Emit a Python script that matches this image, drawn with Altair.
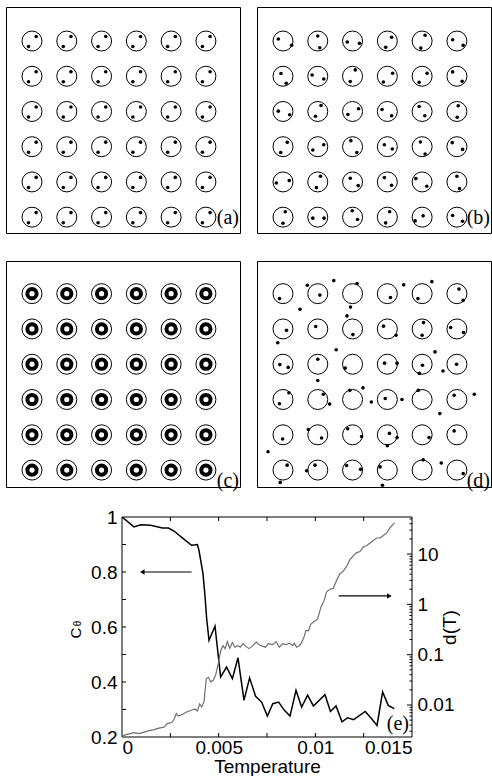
import altair as alt
import pandas as pd

# ---------------- lattice snapshots (a)-(d) ----------------
grid_cols = [1, 2, 3, 4, 5, 6]
grid_rows = [1, 2, 3, 4, 5, 6]
R = 0.286  # radius of a pinning circle, in lattice units

# (a) ordered state: same two-particle arrangement in every circle (dx, dy in radii, y up)
a_pair = [(-0.35, -0.55), (0.42, 0.45)]

# (b) orientations vary from circle to circle, listed row by row
b_offsets = [
    [[(-0.47, 0.2), (0.87, -0.43)], [(0, 0.5), (0.2, -0.67)], [(-0.53, -0.1), (0.7, -0.23)],
     [(0.43, 0.37), (-0.17, -0.63)], [(0.3, 0.57), (-0.13, -0.7)], [(-0.43, 0.13), (0.63, -0.43)]],
    [[(-0.2, 0.27), (0.33, -0.7)], [(-0.57, 0.13), (0.6, -0.27)], [(0.27, 0.63), (-0.23, -0.53)],
     [(0.53, 0.3), (-0.4, -0.57)], [(0.5, 0.3), (-0.3, -0.6)], [(-0.43, 0.43), (0.53, -0.5)]],
    [[(-0.47, 0.03), (0.67, -0.33)], [(0.33, 0.6), (-0.23, -0.47)], [(0.6, 0.27), (-0.47, -0.3)],
     [(-0.53, 0.2), (0.43, -0.43)], [(-0.3, 0.5), (0.27, -0.43)], [(0.13, 0.57), (0.03, -0.57)]],
    [[(0.43, 0.43), (-0.23, -0.57)], [(0.6, 0.2), (-0.5, -0.33)], [(-0.17, 0.6), (0.43, -0.57)],
     [(-0.3, 0.2), (0.5, -0.23)], [(-0.17, 0.47), (0.3, -0.73)], [(-0.47, 0.4), (0.57, -0.27)]],
    [[(-0.67, -0.1), (0.63, 0.13)], [(0.27, 0.57), (-0.13, -0.57)], [(-0.23, 0.37), (0.57, -0.37)],
     [(-0.3, 0.43), (0.43, -0.33)], [(-0.63, 0.33), (0.47, -0.43)], [(0, 0.57), (0.27, -0.67)]],
    [[(0.23, 0.53), (0, -0.6)], [(-0.5, -0.1), (0.63, -0.1)], [(-0.03, 0.63), (0.5, -0.23)],
     [(0.23, 0.53), (-0.17, -0.57)], [(-0.7, -0.37), (0.1, 0.13)], [(-0.43, 0.17), (0.57, -0.4)]],
]

# (d) melted state: particle positions in lattice coordinates
d_x = [0.90, 1.70, 2.06, 2.46, 3.13, 2.94, 1.49, 4.09, 4.47, 4.88, 5.28, 6.06, 6.18,
       1.10, 0.85, 1.94, 2.84, 3.01, 3.89, 4.25, 5.04, 5.00, 5.82, 6.19,
       2.53, 0.91, 1.15, 2.00, 2.00, 2.79, 3.92, 4.28, 5.37, 5.01, 4.92, 5.60, 5.99,
       1.17, 0.90, 2.16, 2.34, 2.92, 3.30, 3.54, 3.94, 4.42, 4.89, 5.51, 5.92, 6.50,
       0.99, 1.73, 2.11, 2.86, 3.26, 4.06, 4.28, 4.00, 5.20, 5.92,
       0.57, 1.12, 0.92, 1.68, 1.92, 2.83, 3.23, 3.79, 3.86, 5.03, 5.55, 6.18]
d_y = [1.14, 0.76, 1.04, 0.63, 0.71, 1.38, 1.44, 1.11, 0.75, 1.14, 0.66, 0.87, 1.19,
       2.04, 2.39, 1.93, 1.63, 2.16, 1.92, 2.18, 1.82, 2.18, 1.96, 2.10,
       2.59, 3.01, 3.09, 2.86, 3.46, 3.11, 2.97, 2.97, 2.65, 3.03, 3.26, 3.19, 3.00,
       3.81, 4.12, 3.85, 4.13, 3.74, 3.67, 4.07, 3.97, 4.00, 3.74, 4.40, 3.88, 3.85,
       5.12, 4.85, 5.09, 4.83, 5.05, 4.96, 5.08, 5.31, 5.08, 4.89,
       5.48, 5.86, 6.35, 6.02, 5.86, 5.87, 5.98, 5.91, 6.43, 5.71, 5.80, 6.10]

panel_labels = ["(a)", "(b)", "(c)", "(d)"]

# ---------------- (e) order parameter and displacement ----------------
temp_c = [0, 0.00062, 0.00097, 0.00148, 0.00209, 0.0024, 0.00269, 0.00312, 0.0036, 0.0039,
          0.00398, 0.00419, 0.00429, 0.00438, 0.0045, 0.00481, 0.0051, 0.00541, 0.00571, 0.006,
          0.00631, 0.0066, 0.00691, 0.00722, 0.00752, 0.0078, 0.0081, 0.0084, 0.00869, 0.009,
          0.00929, 0.0096, 0.0099, 0.0105, 0.01078, 0.01107, 0.01138, 0.01167, 0.01198, 0.01258,
          0.01288, 0.01319, 0.01348, 0.01377, 0.01408]
c_theta = [1.0, 0.964, 0.972, 0.970, 0.960, 0.960, 0.949, 0.924, 0.897, 0.900,
           0.879, 0.794, 0.715, 0.630, 0.552, 0.603, 0.418, 0.454, 0.412, 0.488,
           0.333, 0.415, 0.348, 0.327, 0.276, 0.321, 0.327, 0.297, 0.276, 0.370,
           0.309, 0.352, 0.313, 0.354, 0.293, 0.313, 0.255, 0.270, 0.263, 0.293,
           0.269, 0.242, 0.364, 0.315, 0.303]

temp_d = [0, 0.00021, 0.00062, 0.00088, 0.00114, 0.0014, 0.00166, 0.00191, 0.00217, 0.00234,
          0.00257, 0.00269, 0.00281, 0.00291, 0.00312, 0.00334, 0.00355, 0.00378, 0.0039, 0.00402,
          0.00412, 0.00424, 0.00436, 0.00447, 0.00459, 0.00472, 0.00484, 0.00498, 0.0051, 0.00522,
          0.00533, 0.00545, 0.00557, 0.00571, 0.00584, 0.00598, 0.00612, 0.00626, 0.0064, 0.00657,
          0.00674, 0.00695, 0.00709, 0.00726, 0.00743, 0.00757, 0.0078, 0.00797, 0.00814, 0.00831,
          0.00848, 0.00866, 0.00883, 0.00891, 0.00903, 0.00917, 0.00929, 0.00943, 0.00951, 0.00965,
          0.00977, 0.00995, 0.01012, 0.01029, 0.01046, 0.01058, 0.01076, 0.01093, 0.0111, 0.01127,
          0.01145, 0.01162, 0.01179, 0.01197, 0.01214, 0.01231, 0.01248, 0.01266, 0.01283, 0.013,
          0.01317, 0.01335, 0.01352, 0.01369, 0.01386, 0.01409]
disp_d = [0.0024, 0.00257, 0.00282, 0.00269, 0.00288, 0.00309, 0.00324, 0.00347, 0.00363, 0.00427,
          0.00447, 0.00513, 0.00676, 0.00603, 0.00646, 0.00724, 0.00776, 0.00832, 0.00759, 0.0105,
          0.00912, 0.0115, 0.0331, 0.0355, 0.0288, 0.0309, 0.0389, 0.0661, 0.117, 0.151,
          0.132, 0.182, 0.135, 0.174, 0.141, 0.151, 0.141, 0.166, 0.148, 0.132,
          0.148, 0.178, 0.158, 0.148, 0.141, 0.166, 0.158, 0.182, 0.141, 0.166,
          0.158, 0.170, 0.151, 0.170, 0.141, 0.151, 0.174, 0.234, 0.302, 0.302,
          0.407, 0.457, 0.513, 0.891, 1.20, 1.78, 2.0, 2.09, 3.02, 4.07,
          4.57, 5.75, 7.76, 9.33, 10.7, 11.2, 13.8, 14.8, 16.6, 18.6,
          20.9, 20.9, 23.4, 26.3, 33.1, 41.7]

x_labels = [0, 0.005, 0.01, 0.015]
x_minor = [0.0025, 0.005, 0.0075, 0.01, 0.0125]
c_labels = [0.2, 0.4, 0.6, 0.8, 1]
c_minor = [0.3, 0.4, 0.5, 0.6, 0.7, 0.8, 0.9]
d_labels = [0.01, 0.1, 1, 10]
d_minor = [m * 10.0 ** e for e in (-3, -2, -1, 0, 1) for m in range(2, 10) if 0.0023 < m * 10.0 ** e < 54]

arrow_from = [0.0036, 0.01121]
arrow_to = [0.00105, 0.01383]
arrow_level = [0.8, 0.713]
arrow_head = ["triangle-left", "triangle-right"]

# ---------------- snapshot panels ----------------
grid = pd.DataFrame([{"col": c, "row": r} for r in grid_rows for c in grid_cols])


def dots_from_offsets(offsets):
    recs = []
    for r, row in zip(grid_rows, offsets):
        for c, cell in zip(grid_cols, row):
            for dx, dy in cell:
                recs.append({"x": c + dx * R, "y": r - dy * R})
    return pd.DataFrame(recs)


a_dots = dots_from_offsets([[a_pair] * 6] * 6)
b_dots = dots_from_offsets(b_offsets)
d_dots = pd.DataFrame({"x": d_x, "y": d_y})

XS = alt.Scale(domain=[0.253, 6.98])
PW, PH = 234, 226


def panel(dots, label, ydom, label_y, rings=False):
    ys = alt.Scale(domain=ydom, reverse=True)
    enc = dict(x=alt.X("col:Q", scale=XS, axis=None), y=alt.Y("row:Q", scale=ys, axis=None))
    layers = [alt.Chart(grid).mark_point(shape="circle", size=400, filled=False, color="black",
                                         strokeWidth=1, opacity=1).encode(**enc)]
    if rings:
        layers.append(alt.Chart(grid).mark_point(shape="circle", size=85, filled=False, color="black",
                                                 strokeWidth=4, opacity=1).encode(**enc))
    if dots is not None:
        layers.append(alt.Chart(dots).mark_circle(size=13, color="black", opacity=1).encode(
            x=alt.X("x:Q", scale=XS, axis=None), y=alt.Y("y:Q", scale=ys, axis=None)))
    layers.append(alt.Chart(pd.DataFrame({"t": [label]})).mark_text(
        align="right", baseline="alphabetic", font="Liberation Serif", fontSize=20, color="black"
    ).encode(x=alt.value(PW - 1), y=alt.value(label_y), text="t:N"))
    return alt.layer(*layers).properties(width=PW, height=PH)


YD_TOP = [0.034, 6.45]
YD_BOT = [0.074, 6.48]
pa = panel(a_dots, panel_labels[0], YD_TOP, 217)
pb = panel(b_dots, panel_labels[1], YD_TOP, 217)
pc = panel(None, panel_labels[2], YD_BOT, 226, rings=True)
pd_ = panel(d_dots, panel_labels[3], YD_BOT, 226)

# ---------------- temperature sweep (e) ----------------
# the drawing area spans the full row; the frame itself starts X0 pixels in
WT, X0, H = 406, 116, 220
xs = alt.Scale(domain=[0, 0.015], range=[X0, WT])
yl = alt.Scale(domain=[0.2, 1])
yr = alt.Scale(type="log", domain=[0.00231, 54.6])

x_axis = alt.Axis(values=x_labels, format=".3~g", title="Temperature", ticks=False, tickSize=0,
                  domain=False, grid=False, labelPadding=1, titlePadding=0)
yl_axis = alt.Axis(values=c_labels, format=".2~g", title="", orient="left", offset=-X0, ticks=False,
                   tickSize=0, domain=False, grid=False, labelPadding=5)
yr_axis = alt.Axis(values=d_labels, format="~g", title="d(T)", orient="right", ticks=False,
                   tickSize=0, domain=False, grid=False, labelPadding=5, titleAngle=270,
                   titleX=37, titleY=110, titleAlign="center", titleBaseline="middle")


def X(field):
    return alt.X(field, scale=xs, axis=x_axis)


def YL(field):
    return alt.Y(field, scale=yl, axis=yl_axis)


def YR(field):
    return alt.Y(field, scale=yr, axis=yr_axis)


c_df = pd.DataFrame({"T": temp_c, "C": c_theta})
d_df = pd.DataFrame({"T": temp_d, "d": disp_d})
arrows = pd.DataFrame({"x0": arrow_from, "x1": arrow_to, "y": arrow_level, "head": arrow_head})
one = pd.DataFrame({"k": [0]})

frame = alt.Chart(one).mark_rect(fill="transparent", stroke="black", strokeWidth=1).encode(
    x=alt.value(X0), x2=alt.value(WT), y=alt.value(0), y2=alt.value(H))

line_c = alt.Chart(c_df).mark_line(color="black", strokeWidth=1.5, clip=True).encode(
    x=X("T:Q"), y=YL("C:Q"))
c_ticks = alt.Chart(pd.DataFrame({"v": c_minor})).mark_rule(color="black", strokeWidth=1).encode(
    y=YL("v:Q"), x=alt.value(X0), x2=alt.value(X0 + 4))
x_ticks_df = pd.DataFrame({"v": x_minor})
x_ticks_bottom = alt.Chart(x_ticks_df).mark_rule(color="black", strokeWidth=1).encode(
    x=X("v:Q"), y=alt.value(H - 4), y2=alt.value(H))
x_ticks_top = alt.Chart(x_ticks_df).mark_rule(color="black", strokeWidth=1).encode(
    x=X("v:Q"), y=alt.value(0), y2=alt.value(4))
arrow_shafts = alt.Chart(arrows).mark_rule(color="black", strokeWidth=1.2).encode(
    x=X("x0:Q"), x2="x1:Q", y=YL("y:Q"))
arrow_heads = alt.Chart(arrows).mark_point(filled=True, size=28, color="black", opacity=1).encode(
    x=X("x1:Q"), y=YL("y:Q"), shape=alt.Shape("head:N", scale=None))
label_e = alt.Chart(pd.DataFrame({"t": ["(e)"]})).mark_text(
    align="right", baseline="alphabetic", font="Liberation Serif", fontSize=20, color="black"
).encode(x=alt.value(WT - 3), y=alt.value(213), text="t:N")
c_title = alt.Chart(pd.DataFrame({"t": ["C"]})).mark_text(
    angle=270, align="center", baseline="middle", font="Liberation Sans", fontSize=15, color="black"
).encode(x=alt.value(X0 - 46.5), y=alt.value(116), text="t:N")
c_sub = alt.Chart(pd.DataFrame({"t": ["θ"]})).mark_text(
    angle=270, align="center", baseline="middle", font="Liberation Sans", fontSize=10, color="black"
).encode(x=alt.value(X0 - 44), y=alt.value(106.5), text="t:N")

left_group = alt.layer(frame, line_c, c_ticks, x_ticks_bottom, x_ticks_top, arrow_shafts,
                       arrow_heads, label_e, c_title, c_sub)

line_d = alt.Chart(d_df).mark_line(color="#6f6f6f", strokeWidth=1.2, clip=True).encode(
    x=X("T:Q"), y=YR("d:Q"))
d_major = alt.Chart(pd.DataFrame({"v": d_labels})).mark_rule(color="black", strokeWidth=1).encode(
    y=YR("v:Q"), x=alt.value(WT - 5), x2=alt.value(WT))
d_small = alt.Chart(pd.DataFrame({"v": d_minor})).mark_rule(color="black", strokeWidth=1).encode(
    y=YR("v:Q"), x=alt.value(WT - 2.5), x2=alt.value(WT))
right_group = alt.layer(line_d, d_major, d_small)

sweep = alt.layer(left_group, right_group).resolve_scale(y="independent").properties(
    width=WT, height=H, view=alt.ViewBackground(stroke="transparent"))

row1 = alt.hconcat(pa, pb, spacing=17, bounds="flush")
row2 = alt.hconcat(pc, pd_, spacing=17, bounds="flush")
snapshots = alt.vconcat(row1, row2, spacing=26)

chart = alt.vconcat(snapshots, sweep, spacing=15).properties(
    padding={"left": 5, "top": 6, "right": 0, "bottom": 0}
).configure_view(stroke="black", strokeWidth=1).configure_axis(
    labelFont="Liberation Sans", labelFontSize=19, labelColor="black",
    titleFont="Liberation Sans", titleFontSize=19, titleFontWeight="normal", titleColor="black",
)

chart.save("out.html", embed_options={"renderer": "svg", "actions": False})
